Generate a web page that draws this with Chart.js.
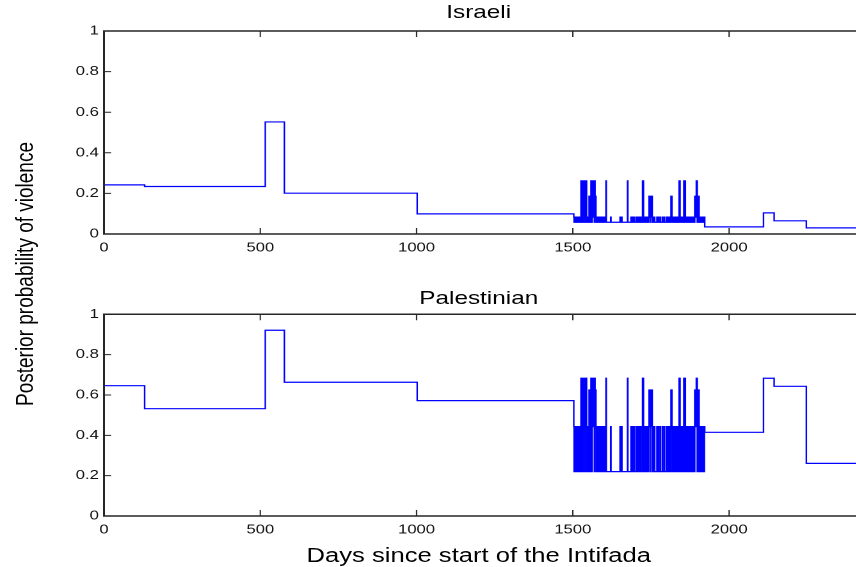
<!DOCTYPE html>
<html>
<head>
<meta charset="utf-8">
<script src="https://cdn.jsdelivr.net/npm/chart.js@4.4.1/dist/chart.umd.min.js"></script>
<style>
  html, body { margin: 0; padding: 0; background: #fff; overflow: hidden; }
  #stage { position: absolute; left: 0; top: 0; width: 669px; height: 567px; transform: scaleX(1.28); transform-origin: 0 0; }
  canvas { position: absolute; left: 0; }
  .txt { position: absolute; font-family: 'Liberation Sans', Arial, Helvetica, sans-serif; color: #000; white-space: nowrap; }
  .title { font-size: 19px; line-height: 19px; transform: translateX(-50%); }
</style>
</head>
<body>
<div id="stage">
  <div class="txt title" style="left:374px; top:2px;">Israeli</div>
  <div class="txt title" style="left:374px; top:288px;">Palestinian</div>
  <div class="txt" style="left:374px; top:545px; font-size:20px; line-height:20px; transform:translateX(-50%);">Days since start of the Intifada</div>
  <div class="txt" style="left:18.75px; top:273.5px; font-size:19px; line-height:19px; transform:translate(-50%,-50%) rotate(-90deg);">Posterior probability of violence</div>
  <canvas id="top" width="669" height="262" style="top:0px;"></canvas>
  <canvas id="bottom" width="669" height="262" style="top:283px;"></canvas>
</div>
<script>
// ---- data ----
const xTicks = [0, 500, 1000, 1500, 2000];
const yTicks = [0, 0.2, 0.4, 0.6, 0.8, 1];
const yTickLabels = ['0', '0.2', '0.4', '0.6', '0.8', '1'];
const xMax = 2407;

// change-point days before the volatile period (value holds until next day listed)
const preDays = [0, 130, 516, 577, 1002];
const israeliPre = [0.242, 0.234, 0.552, 0.201, 0.099];
const palestinianPre = [0.646, 0.532, 0.921, 0.663, 0.572];

// volatile period: one state per day starting at denseStart
const denseStart = 1503;
const denseStates =
  '10110101101011011010110' + '3131' + '010' + '3133' + '101' + '3313' + '01101011' +
  '202120' + '3130313231303' + '212' + '101101101011010110110101' + '10110000' + '3' +
  '00000000000000' + '1' + '00000000000000000000000000000' + '100001' +
  '000000000000000000' + '3' + '0000000000' +
  '100001000001000000100001011000010000' + '03030' + '00010001000010' +
  '10121212012121101' + '000100000001000100000100000010000010000001000' +
  '10110101101' + '212' + '10110101101101011010110' + '31310' + '1011010110' +
  '313031' + '10110110101101101011011010110' + '21212' + '3130' + '10' + '21210' +
  '1011011010110101';
const israeliLevels = [0.058, 0.083, 0.186, 0.262];
const palestinianLevels = [0.22, 0.443, 0.625, 0.683];

// after the volatile period
const postDays = [1922, 2110, 2144, 2247, xMax];
const israeliPost = [0.035, 0.104, 0.065, 0.030, 0.030];
const palestinianPost = [0.415, 0.683, 0.643, 0.261, 0.261];

function buildSeries(pre, levels, post) {
  const pts = [];
  preDays.forEach((d, i) => pts.push({x: d, y: pre[i]}));
  let prev = null;
  for (let i = 0; i < denseStates.length; i++) {
    const s = denseStates[i];
    if (s !== prev) { pts.push({x: denseStart + i, y: levels[+s]}); prev = s; }
  }
  postDays.forEach((d, i) => pts.push({x: d, y: post[i]}));
  return pts;
}

const FONT = "'Liberation Sans', Arial, Helvetica, sans-serif";
const framePlugin = {
  id: 'frame',
  afterDraw(chart) {
    const {ctx, chartArea: a, scales: {x, y}} = chart;
    ctx.save();
    ctx.strokeStyle = '#262626';
    ctx.lineWidth = 1.5;
    ctx.beginPath();
    ctx.moveTo(a.right + 5, a.top); ctx.lineTo(a.left, a.top);
    ctx.lineTo(a.left, a.bottom); ctx.lineTo(a.right + 5, a.bottom);
    ctx.stroke();
    ctx.lineWidth = 1;
    ctx.beginPath();
    x.ticks.forEach(t => {
      const px = x.getPixelForValue(t.value);
      if (px <= a.left + 1) return;
      ctx.moveTo(px, a.bottom); ctx.lineTo(px, a.bottom - 6);
      ctx.moveTo(px, a.top); ctx.lineTo(px, a.top + 6);
    });
    y.ticks.forEach(t => {
      const py = y.getPixelForValue(t.value);
      ctx.moveTo(a.left, py); ctx.lineTo(a.left + 5.5, py);
    });
    ctx.stroke();
    ctx.restore();
  }
};

function makeChart(id, data, padTop, xHeight) {
  return new Chart(document.getElementById(id), {
    type: 'line',
    data: { datasets: [{ data, borderColor: '#0000ff', borderWidth: 1.2, pointRadius: 0,
      fill: false, stepped: true, tension: 0 }] },
    options: {
      responsive: false, animation: false, devicePixelRatio: 2,
      layout: { padding: { top: padTop, right: 0, left: 0, bottom: 0 } },
      plugins: { legend: { display: false }, tooltip: { enabled: false }, title: { display: false } },
      scales: {
        x: {
          type: 'linear', min: 0, max: xMax,
          afterBuildTicks: s => { s.ticks = xTicks.map(v => ({value: v})); },
          afterFit: s => { s.height = xHeight; },
          grid: { display: false, drawTicks: false, tickLength: 0 },
          border: { display: false },
          ticks: { font: { family: FONT, size: 13 }, color: '#111', padding: 6, maxRotation: 0,
            callback: v => String(v) }
        },
        y: {
          type: 'linear', min: 0, max: 1,
          afterBuildTicks: s => { s.ticks = yTicks.map(v => ({value: v})); },
          afterFit: s => { s.width = 81.25; },
          grid: { display: false, drawTicks: false, tickLength: 0 },
          border: { display: false },
          ticks: { font: { family: FONT, size: 13 }, color: '#111', padding: 4,
            callback: (v, i) => yTickLabels[i] }
        }
      }
    },
    plugins: [framePlugin]
  });
}

makeChart('top', buildSeries(israeliPre, israeliLevels, israeliPost), 31, 28);
makeChart('bottom', buildSeries(palestinianPre, palestinianLevels, palestinianPost), 31.3, 29);
</script>
</body>
</html>
